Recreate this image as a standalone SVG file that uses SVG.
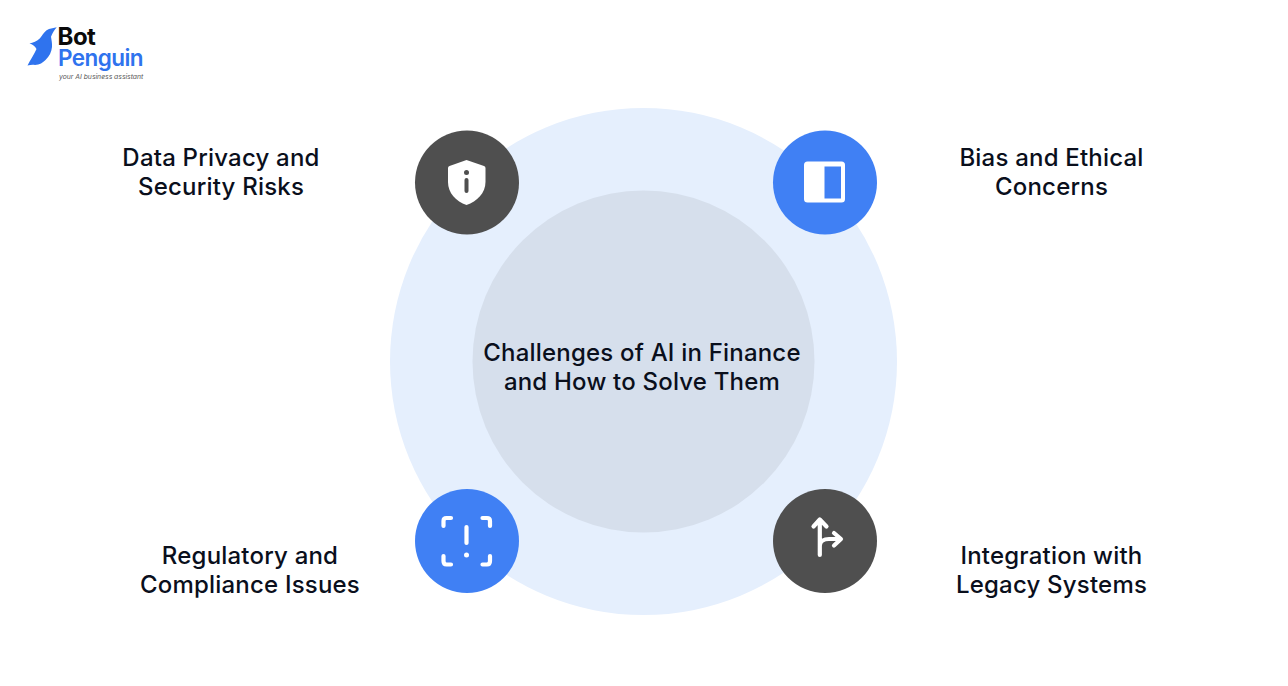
<svg xmlns="http://www.w3.org/2000/svg" width="1288" height="686" viewBox="0 0 1288 686">
<style>
.t{font-family:Inter,"Liberation Sans",sans-serif;font-size:24px;font-weight:530;letter-spacing:.2px;fill:#0a0f1c;text-anchor:middle}
.l{font-family:Inter,"Liberation Sans",sans-serif}
.dark{fill:#4f4f4f}.blue{fill:#4080f4}
.ic{fill:none;stroke:#fff;stroke-width:4.200;stroke-linecap:round;stroke-linejoin:round}
</style>
<rect width="1288" height="686" fill="#fff"/>
<g id="logo">
<path d="M56.700 27.300 L49 29 C45 30.500 42.500 35 40 38.300 C37 41.500 33 42.500 29.500 43.500 C32.500 44.500 35 46 36.500 49 C34 55 30 60 27.500 65.500 C30 65 32.500 64.500 35 65 C39.500 65 43 62.500 45.500 60 C49.500 56 51.500 52 52 47 C52.300 43 51.500 40 51 36.700 C52.500 33 54.500 30 56.700 27.300Z" fill="#2f73ee"/>
<text class="l" x="57.500" y="44.500" font-size="24" font-weight="700" fill="#0a0a0a" letter-spacing="-.5">Bot</text>
<text class="l" x="58" y="65.500" font-size="22.500" font-weight="600" fill="#2f73ee" letter-spacing="-.55">Penguin</text>
<text class="l" x="59" y="79" font-size="6.800" font-style="italic" fill="#555">your AI business assistant</text>
</g>
<g id="rings">
<circle cx="643.500" cy="361.500" r="253.500" fill="#e5effd"/>
<circle cx="643.500" cy="361.500" r="171" fill="#d6dfec"/>
</g>
<g id="connectors"/>
<g id="center"><text class="t"><tspan x="642" y="361">Challenges of AI in Finance</tspan><tspan x="642" y="390">and How to Solve Them</tspan></text></g>
<g id="node-privacy">
<circle class="dark" cx="467" cy="182.500" r="52"/>
<path d="M466.500 160 L484 166 Q485.500 166.700 485.500 168 L485.500 182 C485.500 193 477 201.500 466.500 205 C456 201.500 448 193 448 182 L448 168 Q448 166.700 449.500 166Z" fill="#fff"/>
<circle cx="466.500" cy="172.500" r="2.500" fill="#4f4f4f"/>
<path d="M466.500 180 V191" stroke="#4f4f4f" stroke-width="4" stroke-linecap="round" fill="none"/>
<text class="t"><tspan x="221" y="166">Data Privacy and</tspan><tspan x="221" y="195">Security Risks</tspan></text>
</g>
<g id="node-bias">
<circle class="blue" cx="825" cy="182.500" r="52"/>
<rect x="804" y="161.500" width="41" height="41" rx="3.500" fill="#fff"/>
<rect x="824.500" y="166.500" width="16.500" height="32" fill="#4080f4"/>
<text class="t"><tspan x="1051.500" y="166">Bias and Ethical</tspan><tspan x="1051.500" y="195">Concerns</tspan></text>
</g>
<g id="node-regulatory">
<circle class="blue" cx="467" cy="541" r="52"/>
<path class="ic" d="M443.500 526 V521 Q443.500 518 446.500 518 H451 M482.500 518 H487 Q490 518 490 521 V526 M443.500 556 V561 Q443.500 564.500 446.500 564.500 H451 M490 556 V561 Q490 564.500 487 564.500 H482.500"/>
<path class="ic" d="M466.500 527 V543"/>
<circle cx="466.500" cy="555" r="2.500" fill="#fff"/>
<text class="t"><tspan x="250" y="564">Regulatory and</tspan><tspan x="250" y="593">Compliance Issues</tspan></text>
</g>
<g id="node-integration">
<circle class="dark" cx="825" cy="541" r="52"/>
<path class="ic" d="M819.800 555 V520 M813.500 526.500 L819.800 519.500 L826.500 526.500 M819.800 546 C819.800 541 824 539 829 539 H840 M834 533 L841 539 L834 545.500"/>
<text class="t"><tspan x="1051.500" y="564">Integration with</tspan><tspan x="1051.500" y="593">Legacy Systems</tspan></text>
</g>
</svg>
